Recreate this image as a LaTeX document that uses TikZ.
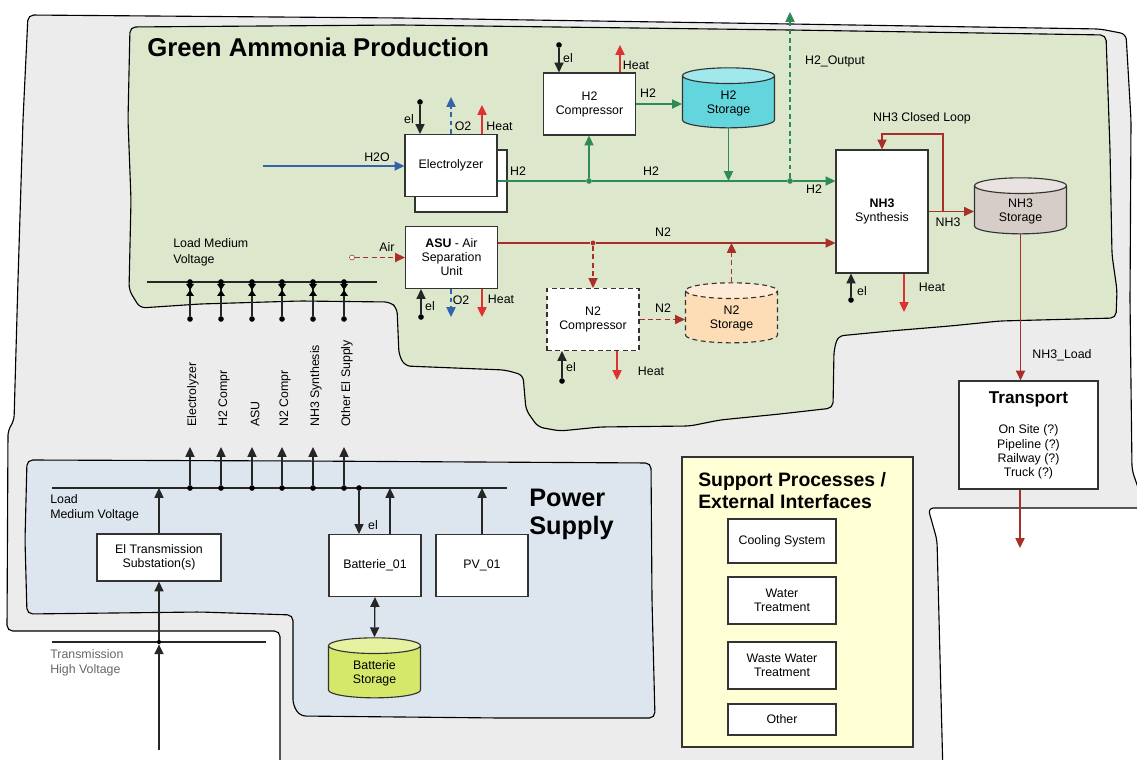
\documentclass[tikz,border=0pt]{standalone}
\usepackage{fontspec}
\setmainfont{Liberation Sans}
\usetikzlibrary{calc,arrows.meta,shapes.geometric}

\definecolor{areagray}{RGB}{236,236,236}
\definecolor{prodgreen}{RGB}{221,231,204}
\definecolor{supblue}{RGB}{221,229,239}
\definecolor{supyellow}{RGB}{255,255,213}
\definecolor{hgreen}{RGB}{46,139,87}
\definecolor{nred}{RGB}{168,48,40}
\definecolor{heatred}{RGB}{222,50,50}
\definecolor{oblue}{RGB}{50,100,170}
\definecolor{hcyan}{RGB}{98,214,220}
\definecolor{hcyantop}{RGB}{160,232,236}
\definecolor{nhgray}{RGB}{214,204,200}
\definecolor{nhgraytop}{RGB}{232,226,224}
\definecolor{norange}{RGB}{253,221,182}
\definecolor{norangetop}{RGB}{255,234,214}
\definecolor{batgreen}{RGB}{214,232,106}
\definecolor{batgreentop}{RGB}{230,242,160}

\begin{document}
\begin{tikzpicture}[x=0.025cm,y=-0.025cm,>={Triangle[length=7pt,width=6.5pt]},
    font=\fontsize{8.8}{10}\selectfont,
    box/.style={draw=black!80,line width=0.8pt,fill=white,align=center,inner sep=1pt,minimum width=2.3cm,minimum height=1.55cm},
    tank/.style={cylinder,shape border rotate=90,aspect=0.34,draw=black!80,line width=0.8pt,cylinder uses custom fill,align=center,inner sep=1pt,minimum width=2.3cm,minimum height=1.5cm},
    junc/.style={circle,fill,inner sep=0pt,minimum size=4pt},
    lbl/.style={inner sep=0pt},
    dashline/.style={dash pattern=on 3.5pt off 2.5pt},
    wire/.style={line width=0.9pt,black!85},
    hflow/.style={line width=1pt,hgreen},
    nflow/.style={line width=1pt,nred},
    hot/.style={line width=1pt,heatred},
    oflow/.style={line width=1pt,oblue},
    area/.style={draw=black,line width=0.8pt,rounded corners=4pt}]
    \useasboundingbox (0,0) rectangle (1137,760);

    % Areas
    \filldraw[area,fill=areagray] (28,15) -- (400,18) -- (790,24) -- (1100,29) -- (1126,34) -- (1131,120)
        -- (1130,300) -- (1132,470) -- (1145,508) -- (928,508) -- (937,540) -- (943,775)
        -- (280,775) -- (280,631) -- (7,631) -- (8,430) -- (14,421) -- (18,280) -- (23,120) -- cycle;
    \filldraw[area,fill=prodgreen] (130,27) -- (400,25) -- (790,30) -- (1106,35) -- (1110,150) -- (1112,255)
        -- (1117,290) -- (1116,318) -- (1000,321) -- (950,326) -- (890,331) -- (838,336) -- (834,350)
        -- (833,408) -- (780,414) -- (720,420) -- (690,426) -- (600,427) -- (560,431) -- (538,427)
        -- (526,410) -- (523,375) -- (505,370) -- (405,366) -- (399,355) -- (397,308) -- (390,302)
        -- (300,301) -- (200,304) -- (140,308) -- (129,290) -- (131,200) -- (128,120) -- cycle;
    \filldraw[area,fill=supblue] (27,460) -- (300,461) -- (651,463) -- (652,600) -- (655,718) -- (500,718)
        -- (300,716) -- (293,705) -- (293,615) -- (200,612) -- (27,614) -- (25,540) -- cycle;

    % Titles
    \node[lbl,anchor=west,font=\fontsize{18.3}{20}\selectfont\bfseries] (gTitle) at (147,47) {Green Ammonia Production};
    \node[lbl,anchor=west,align=left,font=\fontsize{18}{20}\selectfont\bfseries] (pTitle) at (529,514) {Power\\Supply};

    % Hydrogen branch
    \node[box] (elyB) at (461,181) {};
    \node[box] (ely) at (451,165.5) {Electrolyzer};
    \node[box] (h2c) at (589.5,104) {H2\\Compressor};
    \node[tank,cylinder body fill=hcyan,cylinder end fill=hcyantop] (h2s) at (728.5,103) {H2\\Storage};
    \node[box,minimum height=3.075cm] (syn) at (882,211.5) {\textbf{NH3}\\Synthesis};
    \node[tank,minimum height=1.4cm,cylinder body fill=nhgray,cylinder end fill=nhgraytop] (nh3s) at (1020.5,211) {NH3\\Storage};

    \coordinate (h2oIn) at (263,166);
    \draw[oflow,->] (h2oIn) -- (h2oIn -| ely.west);
    \node[lbl] (lH2O) at (377,157) {H2O};

    \node[junc] (elyEl) at (420,102) {};
    \draw[wire,->] (elyEl) -- (elyEl |- ely.north);
    \node[lbl] (lElyEl) at (409,119) {el};
    \coordinate (elyO2) at (451,97);
    \draw[oflow,dashline,->] (elyO2 |- ely.north) -- (elyO2);
    \node[lbl] (lElyO2) at (463,126) {O2};
    \coordinate (elyHeat) at (482,105);
    \draw[hot,->] (elyHeat |- ely.north) -- (elyHeat);
    \node[lbl] (lElyHeat) at (499.5,126) {Heat};

    \node[junc,hgreen] (h2j1) at (589,181) {};
    \node[junc,hgreen] (h2j2) at (790,181) {};
    \draw[hflow,->] (ely.east |- h2j1) -- (h2j1) -- (h2j2) -- (h2j2 -| syn.west);
    \draw[hflow,->] (h2j1) -- (h2j1 |- h2c.south);
    \draw[hflow,->] (h2c.east) -- (h2c.east -| h2s.west);
    \draw[hflow,->] (h2s.south) -- (h2s.south |- h2j1);
    \coordinate (h2out) at (790,12);
    \draw[hflow,dashline,->] (h2j2) -- (h2out);
    \node[lbl] (lH2a) at (518,171) {H2};
    \node[lbl] (lH2b) at (651,171) {H2};
    \node[lbl] (lH2c) at (648,93) {H2};
    \node[lbl] (lH2d) at (814,189) {H2};
    \node[lbl] (lH2out) at (835,61) {H2\_Output};

    \node[junc] (h2cEl) at (559,45) {};
    \draw[wire,->] (h2cEl) -- (h2cEl |- h2c.north);
    \node[lbl] (lH2cEl) at (568,58) {el};
    \coordinate (h2cHeat) at (620,45);
    \draw[hot,->] (h2cHeat |- h2c.north) -- (h2cHeat);
    \node[lbl] (lH2cHeat) at (636,65) {Heat};

    % Ammonia loop and transport
    \coordinate (loopA) at (943,211.5);
    \coordinate (loopT) at (882,134);
    \draw[nflow,->] (syn.east) -- (syn.east -| nh3s.west);
    \draw[nflow,->] (loopA) |- (loopT) -- (syn.north);
    \node[lbl] (lLoop) at (922,118) {NH3 Closed Loop};
    \node[lbl] (lNH3) at (948,222) {NH3};
    \node[junc] (synEl) at (851,300) {};
    \draw[wire,->] (synEl) -- (synEl |- syn.south);
    \node[lbl] (lSynEl) at (862,291) {el};
    \coordinate (synHeat) at (904,312);
    \draw[hot,->] (synHeat |- syn.south) -- (synHeat);
    \node[lbl] (lSynHeat) at (932,287) {Heat};

    \node[box,minimum width=3.475cm,minimum height=2.7cm] (trans) at (1028.5,435)
        {{\fontsize{12.2}{14}\selectfont\bfseries Transport}\\[12pt]On Site (?)\\Pipeline (?)\\Railway (?)\\Truck (?)};
    \draw[nflow,->] (nh3s.south) -- (nh3s.south |- trans.north);
    \node[lbl] (lLoad) at (1062,355) {NH3\_Load};
    \coordinate (transOut) at (1020,548);
    \draw[nflow,->] (transOut |- trans.south) -- (transOut);

    % Nitrogen branch
    \node[box] (asu) at (451.5,257.5) {\textbf{ASU} - Air\\Separation\\Unit};
    \node[box,dashline] (n2c) at (593,319.5) {N2\\Compressor};
    \node[tank,dashline,cylinder body fill=norange,cylinder end fill=norangetop] (n2s) at (731.5,318) {N2\\Storage};

    \node[circle,draw=nred,fill=white,inner sep=0pt,minimum size=3.5pt] (airIn) at (352,257.5) {};
    \draw[nflow,dashline,->] (airIn) -- (asu.west);
    \node[lbl] (lAir) at (387,247) {Air};
    \node[junc] (asuEl) at (421,317) {};
    \draw[wire,->] (asuEl) -- (asuEl |- asu.south);
    \node[lbl] (lAsuEl) at (430,306) {el};
    \coordinate (asuO2) at (451,317);
    \draw[oflow,dashline,->] (asuO2 |- asu.south) -- (asuO2);
    \node[lbl] (lAsuO2) at (461,300) {O2};
    \coordinate (asuHeat) at (482,317);
    \draw[hot,->] (asuHeat |- asu.south) -- (asuHeat);
    \node[lbl] (lAsuHeat) at (501,299) {Heat};

    \node[junc,nred,minimum size=3.5pt] (n2j) at (593,243) {};
    \draw[nflow,->] (asu.east |- n2j) -- (n2j) -- (n2j -| syn.west);
    \node[lbl] (lN2a) at (663,232) {N2};
    \draw[nflow,dashline,->] (n2j) -- (n2c.north);
    \draw[nflow,dashline,->] (n2c.east) -- (n2c.east -| n2s.west);
    \node[lbl] (lN2b) at (663,308) {N2};
    \draw[nflow,dashline,->] (n2s.north) -- (n2s.north |- n2j);
    \node[junc] (n2cEl) at (562,381) {};
    \draw[wire,->] (n2cEl) -- (n2cEl |- n2c.south);
    \node[lbl] (lN2cEl) at (571,367) {el};
    \coordinate (n2cHeat) at (617,380);
    \draw[hot,->] (n2cHeat |- n2c.south) -- (n2cHeat);
    \node[lbl] (lN2cHeat) at (651,371) {Heat};

    % Load buses and feeders
    \coordinate (lvL) at (147,282);
    \coordinate (lvR) at (377,282);
    \coordinate (mvL) at (52,488);
    \coordinate (mvR) at (507,488);
    \draw[wire] (lvL) -- (lvR);
    \draw[wire] (mvL) -- (mvR);
    \node[lbl,anchor=west,align=left,font=\fontsize{8.8}{11.4}\selectfont] (lLoadUp) at (173,252) {Load Medium\\Voltage};
    \foreach \x/\t [count=\i] in {190/Electrolyzer,221/H2 Compr,252/ASU,282/N2 Compr,313/NH3 Synthesis,344/Other El Supply}{
        \node[junc] (lvT\i) at (\x,282) {};
        \node[junc] (lvB\i) at (\x,319) {};
        \draw[wire] (lvT\i) -- (lvB\i);
        \fill (\x-4,284) -- (\x+4,284) -- (\x,290) -- cycle (\x-4,296) -- (\x+4,296) -- (\x,290) -- cycle;
        \node[junc] (mvT\i) at (\x,488) {};
        \coordinate (mvA\i) at (\x,447);
        \draw[wire,->] (mvT\i) -- (mvA\i);
        \node[lbl,rotate=90,anchor=west] (vl\i) at (\x+3,427) {\t};
    }

    % Power supply
    \node[box,minimum width=3.1cm,minimum height=1.175cm] (sub) at (159,557.5) {El Transmission\\Substation(s)};
    \node[box] (bat) at (375,565.5) {Batterie\_01};
    \node[box] (pv) at (482,565.5) {PV\_01};
    \node[tank,cylinder body fill=batgreen,cylinder end fill=batgreentop] (bats) at (374.5,673) {Batterie\\Storage};
    \node[lbl,anchor=west,align=left,font=\fontsize{8.8}{10.7}\selectfont] (lLoadLow) at (50,507.5) {Load\\Medium Voltage};

    \draw[wire,->] (sub.north) -- (sub.north |- mvL);
    \node[junc] (batJ) at (359,488) {};
    \draw[wire,->] (batJ) -- (batJ |- bat.north);
    \node[lbl] (lBatEl) at (373,525) {el};
    \coordinate (batUp) at (390,488);
    \draw[wire,->] (batUp |- bat.north) -- (batUp);
    \draw[wire,->] (pv.north) -- (pv.north |- mvL);
    \draw[wire,<->] (bat.south) -- (bats.north);

    \coordinate (hvL) at (52,642);
    \coordinate (hvR) at (266,642);
    \draw[wire] (hvL) -- (hvR);
    \coordinate (hvIn) at (159,750);
    \node[junc,minimum size=3pt] (hvJ) at (159,642) {};
    \draw[wire,->] (hvIn) -- (hvJ);
    \draw[wire,->] (hvJ) -- (sub.south);
    \node[lbl,anchor=west,align=left,text=black!60,font=\fontsize{8.8}{10.7}\selectfont] (lHV) at (50,662.5) {Transmission\\High Voltage};

    % Support processes
    \node[draw=black!80,line width=0.8pt,fill=supyellow,minimum width=5.775cm,minimum height=7.25cm,inner sep=0pt] (supp) at (797.5,602) {};
    \node[lbl,anchor=west,align=left,font=\fontsize{13.8}{15.6}\selectfont\bfseries] (sTitle) at (698,491) {Support Processes /\\External Interfaces};
    \node[box,minimum width=2.7cm,minimum height=1.1cm] (cool) at (782,541) {Cooling System};
    \node[box,minimum width=2.7cm,minimum height=1.175cm] (water) at (782,600.5) {Water\\Treatment};
    \node[box,minimum width=2.7cm,minimum height=1.175cm] (waste) at (782,665.5) {Waste Water\\Treatment};
    \node[box,minimum width=2.7cm,minimum height=0.775cm] (other) at (782,719.5) {Other};
\end{tikzpicture}
\end{document}
